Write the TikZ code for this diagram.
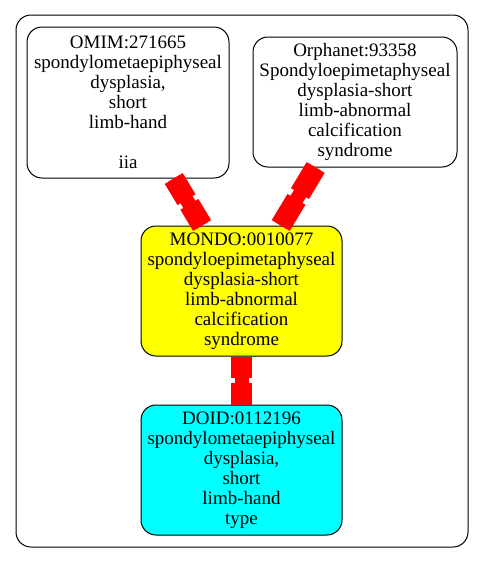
\documentclass[tikz,border=0pt]{standalone}
\usepackage{fontspec}
\setmainfont{Liberation Serif}
\usepackage{xcolor}
\usetikzlibrary{calc,positioning}

\definecolor{mondoyellow}{HTML}{FFFF00}
\definecolor{doidcyan}{HTML}{00FFFF}
\definecolor{linkred}{HTML}{FF0000}

\tikzset{
  term/.style={draw, line width=1pt, rounded corners=15pt, align=center,
    inner sep=0pt, font=\fontsize{19}{20}\selectfont},
  linkthin/.style={draw=linkred, line width=14pt},
  linkwide/.style={draw=linkred, line width=21pt},
}

\begin{document}
\begin{tikzpicture}[x=1pt,y=-1pt]

\useasboundingbox (0,0) rectangle (484,563);
\draw[line width=1pt, rounded corners=15pt] (16,15) rectangle (468,547);

\node[term, minimum width=202pt, minimum height=151pt] (omim) at (128,102.5)
  {OMIM:271665\\spondylometaepiphyseal\\dysplasia,\\short\\limb-hand\\[20pt]iia};
\node[term, minimum width=204pt, minimum height=130pt] (orpha) at (355,102)
  {Orphanet:93358\\Spondyloepimetaphyseal\\dysplasia-short\\limb-abnormal\\calcification\\syndrome};

\node[term, fill=mondoyellow, minimum width=201pt, minimum height=130pt] (mondo) at (241.5,291)
  {MONDO:0010077\\spondyloepimetaphyseal\\dysplasia-short\\limb-abnormal\\calcification\\syndrome};

\node[term, fill=doidcyan, minimum width=201pt, minimum height=130pt] (doid) at (241.5,470)
  {DOID:0112196\\spondylometaepiphyseal\\dysplasia,\\short\\limb-hand\\type};

%%%%%%%%%%%%%%%
\path (omim) -- (mondo) coordinate[pos=.45] (om1) coordinate[pos=.55] (om2);
\draw[linkthin] (omim) -- (mondo);
\draw[linkwide] (omim) -- (om1);
\draw[linkwide] (om2) -- (mondo);

\path (orpha) -- (mondo) coordinate[pos=.45] (or1) coordinate[pos=.55] (or2);
\draw[linkthin] (orpha) -- (mondo);
\draw[linkwide] (orpha) -- (or1);
\draw[linkwide] (or2) -- (mondo);

\path (mondo) -- (doid) coordinate[pos=.45] (md1) coordinate[pos=.55] (md2);
\draw[linkthin] (mondo) -- (doid);
\draw[linkwide] (mondo) -- (md1);
\draw[linkwide] (md2) -- (doid);

\end{tikzpicture}
\end{document}
